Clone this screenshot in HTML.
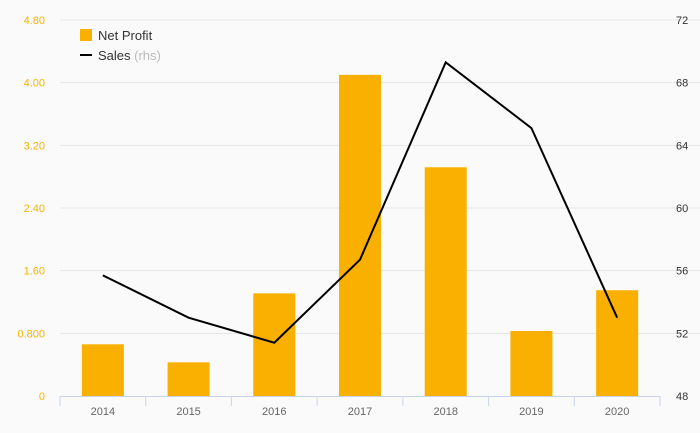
<!DOCTYPE html>
<html><head><meta charset="utf-8"><style>
body{margin:0;background:#fafafa;}
svg{display:block;font-family:"Liberation Sans",sans-serif;}
</style></head><body>
<svg id="chart" width="700" height="433"></svg>
<script>
const categories=["2014","2015","2016","2017","2018","2019","2020"];
const netProfit=[0.66,0.43,1.31,4.10,2.92,0.83,1.35];
const sales=[55.7,53.0,51.4,56.7,69.3,65.1,53.0];
const leftTicks=["0","0.800","1.60","2.40","3.20","4.00","4.80"];
const leftTickVals=[0,0.8,1.6,2.4,3.2,4.0,4.8];
const rightTickVals=[48,52,56,60,64,68,72];
const NS="http://www.w3.org/2000/svg";
const svg=document.getElementById('chart');
const X0=60,X1=660,Y0=396,Y1=20;
const bw=(X1-X0)/categories.length;
const xC=i=>X0+bw*(i+0.5);
const yL=v=>Y0-(v/4.8)*(Y0-Y1);
const yR=v=>Y0-((v-48)/24)*(Y0-Y1);
function mk(t,a,p){const e=document.createElementNS(NS,t);for(const k in a)e.setAttribute(k,a[k]);(p||svg).appendChild(e);return e;}
leftTickVals.forEach((v,i)=>{
 if(i>0){const g=mk('line',{x1:X0,x2:X1+40,y1:yL(v),y2:yL(v),stroke:'#e6e6e6','stroke-width':1});
 
 }
 const t=mk('text',{x:45,y:yL(v)+4,'text-anchor':'end','font-size':11,fill:'#f5b400'});t.textContent=leftTicks[i];
 
 
});
rightTickVals.forEach(v=>{
 const t=mk('text',{x:676,y:yR(v)+4,'text-anchor':'start','font-size':11,fill:'#333'});t.textContent=String(v);
 
 
});
netProfit.forEach((v,i)=>{
 const r=mk('rect',{x:xC(i)-21,y:yL(v),width:42,height:Y0-yL(v),fill:'#f9b000'});
 
 
});
const ax=mk('line',{x1:X0,x2:X1,y1:Y0+0.5,y2:Y0+0.5,stroke:'#c8d4ea'});


for(let i=0;i<=categories.length;i++){
 const tk=mk('line',{x1:X0+bw*i,x2:X0+bw*i,y1:Y0,y2:Y0+10,stroke:'#c8d4ea'});
 
 
}
categories.forEach((c,i)=>{
 const t=mk('text',{x:xC(i),y:Y0+19,'text-anchor':'middle','font-size':11,fill:'#666'});t.textContent=c;
 
 
});
const pl=mk('polyline',{points:sales.map((v,i)=>xC(i)+','+yR(v)).join(' '),fill:'none',stroke:'#000','stroke-width':2});


const lg=mk('g',{});


const s1=mk('rect',{x:80,y:29,width:12,height:12,fill:'#f9b000'},lg);


const t1=mk('text',{x:98,y:40,'font-size':13,fill:'#333'},lg);t1.textContent='Net Profit';


const s2=mk('line',{x1:80,x2:92,y1:55,y2:55,stroke:'#000','stroke-width':2},lg);


const t2=mk('text',{x:98,y:60,'font-size':13,fill:'#333'},lg);t2.innerHTML='Sales <tspan fill="#bbb">(rhs)</tspan>';


</script>
</body></html>
